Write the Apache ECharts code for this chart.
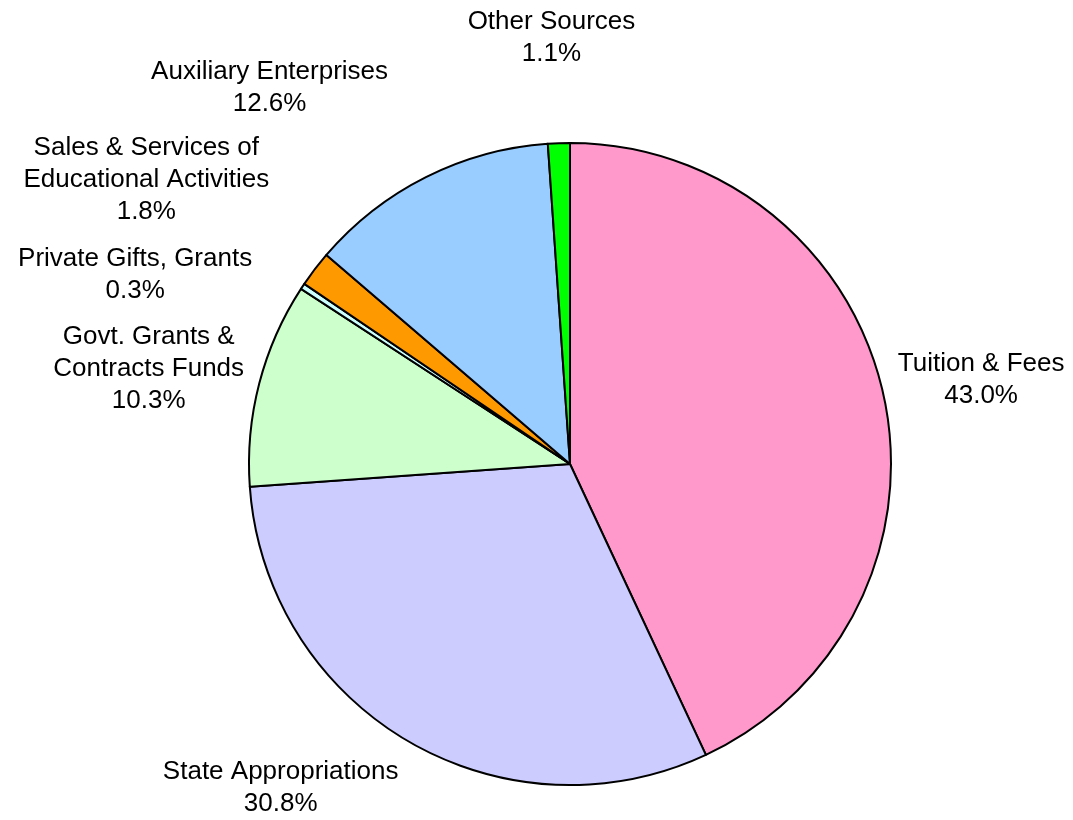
<!DOCTYPE html>
<html>
<head>
<meta charset="utf-8">
<title>Revenue Sources</title>
<script src="https://cdn.jsdelivr.net/npm/echarts@6/dist/echarts.min.js"></script>
<style>
  html, body { margin: 0; padding: 0; background: #fff; }
  #chart { width: 1073px; height: 820px; }
</style>
</head>
<body>
<div id="chart"></div>
<script>
// 数据
const categories = [
  "Tuition & Fees",
  "State Appropriations",
  "Govt. Grants &\nContracts Funds",
  "Private Gifts, Grants",
  "Sales & Services of\nEducational Activities",
  "Auxiliary Enterprises",
  "Other Sources",
];
const percents = [43.0, 30.8, 10.3, 0.3, 1.8, 12.6, 1.1];

// 样式
const sliceColors = ["#FF99CC", "#CCCCFF", "#CCFFCC", "#CCFFFF", "#FF9900", "#99CCFF", "#00FF00"];
// 标签离扇区的距离 (径向 / 水平)
const labelLen = [66, 55, 58, 21, 147, 100, 105];
const labelLen2 = [-55, -24, -46, 28, -76, -12, -85];

const myChart = echarts.init(document.getElementById("chart"));

const option = {
  animation: false,
  backgroundColor: "#fff",
  series: [
    {
      type: "pie",
      center: [570, 464],
      radius: 321,
      startAngle: 90,
      clockwise: true,
      avoidLabelOverlap: false,
      data: categories.map((name, i) => ({
        name: name,
        value: percents[i],
        itemStyle: { color: sliceColors[i] },
        labelLine: { show: false, length: labelLen[i], length2: labelLen2[i] },
      })),
      itemStyle: {
        borderColor: "#000",
        borderWidth: 2,
      },
      label: {
        show: true,
        position: "outside",
        distanceToLabelLine: 5,
        color: "#000",
        fontFamily: "'Liberation Sans', Arial, sans-serif",
        fontSize: 26,
        lineHeight: 32,
        formatter: (params) => {
          const lines = params.name.split("\n");
          lines.push(params.value.toFixed(1) + "%");
          return lines.map((l) => "{a|" + l + "}").join("\n");
        },
        rich: {
          a: {
            color: "#000",
            fontFamily: "'Liberation Sans', Arial, sans-serif",
            fontSize: 26,
            lineHeight: 32,
            align: "center",
          },
        },
      },
      emphasis: { disabled: true },
    },
  ],
};

myChart.setOption(option);
</script>
</body>
</html>
